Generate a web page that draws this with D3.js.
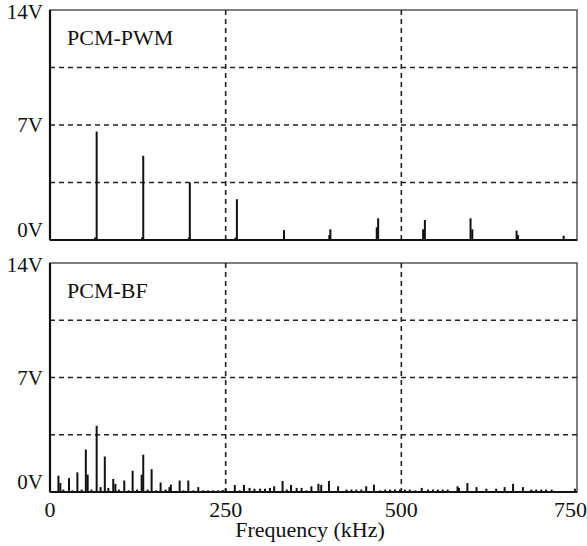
<!DOCTYPE html>
<html>
<head>
<meta charset="utf-8">
<title>PCM spectra</title>
<script src="https://cdn.jsdelivr.net/npm/d3@7"></script>
<style>
  body { margin: 0; background: #fff; }
  svg text { fill: #111; }
</style>
</head>
<body>
<svg id="chart" width="587" height="546"></svg>
<script>
// x ticks (kHz) and y ticks (V)
const xTicks = [0, 250, 500, 750];
const yTicks = [0, 7, 14];
const yTickLabels = ["0V", "7V", "14V"];
const yGrid = [3.5, 7, 10.5];
const panelNames = ["PCM-PWM", "PCM-BF"];

// PCM-PWM harmonics (frequency kHz, amplitude V)
const pwmFreq = [64, 66.4, 131, 132.7, 197.5, 199, 264, 266, 333, 397.5, 399, 465, 467, 531, 533.5, 598.5, 601, 664, 666, 731];
const pwmAmp  = [0.15, 6.6, 0.15, 5.13, 0.15, 3.5, 0.15, 2.48, 0.6, 0.3, 0.65, 0.77, 1.32, 0.65, 1.22, 1.32, 0.65, 0.57, 0.3, 0.26];

// PCM-BF spread spectrum
const bfFreq = [12, 14.7, 19, 27, 32, 39, 45, 51, 53.6, 59, 66.4, 72, 78, 83, 90, 93, 98, 105.7, 112, 117.6,
  124, 130.4, 132.7, 139, 144.6, 151, 157.4, 164.5, 170, 172, 184.5, 190, 196.8, 204, 211, 218, 225, 232, 239, 246,
  250, 263, 270, 276, 284, 291, 299, 306, 313, 319, 331, 337, 343, 351, 358, 365, 372, 382, 386, 397,
  410, 422, 429, 436, 443, 450, 461, 470, 477, 484, 491, 498, 505, 512, 520, 529, 538, 545, 552, 559,
  566, 580, 582, 594, 607, 621, 635, 647, 659, 673, 685, 692, 699, 706, 714, 747];
const bfAmp = [1.0, 0.55, 0.15, 0.85, 0.1, 1.2, 0.15, 2.6, 1.06, 0.15, 4.05, 0.3, 2.17, 0.25, 0.8, 0.5, 0.15, 0.7, 0.1, 1.3,
  0.15, 1.06, 2.28, 0.15, 1.4, 0.1, 0.58, 0.15, 0.3, 0.45, 0.7, 0.1, 0.7, 0.1, 0.3, 0.1, 0.1, 0.1, 0.1, 0.12,
  0.2, 0.43, 0.1, 0.43, 0.25, 0.2, 0.2, 0.2, 0.25, 0.35, 0.67, 0.15, 0.43, 0.25, 0.25, 0.1, 0.35, 0.5, 0.43, 0.67,
  0.35, 0.15, 0.15, 0.15, 0.15, 0.35, 0.45, 0.1, 0.15, 0.15, 0.15, 0.15, 0.15, 0.15, 0.1, 0.25, 0.15, 0.15, 0.15, 0.15,
  0.15, 0.35, 0.25, 0.55, 0.3, 0.2, 0.2, 0.3, 0.5, 0.3, 0.15, 0.15, 0.15, 0.15, 0.15, 0.2];

const serif = "'Liberation Serif', 'Times New Roman', Times, 'Nimbus Roman', 'Nimbus Roman No9 L', Tinos, 'Noto Serif', 'DejaVu Serif', FreeSerif, serif";
const svg = d3.select("#chart");
const x = d3.scaleLinear().domain([0, 750]).range([50, 577]);

const panels = [
  { top: 10, bottom: 240, freq: pwmFreq, amp: pwmAmp },
  { top: 263, bottom: 492, freq: bfFreq, amp: bfAmp }
];

panels.forEach((p, pi) => {
  const y = d3.scaleLinear().domain([0, 14]).range([p.bottom, p.top]);
  const g = svg.append("g");

  // frame
  g.append("rect")
    .attr("x", x(0)).attr("y", p.top)
    .attr("width", x(750) - x(0)).attr("height", p.bottom - p.top)
    .attr("fill", "none").attr("stroke", "#555").attr("stroke-width", 1.5);

  // dashed grid
  g.selectAll(".hg").data(yGrid).enter().append("line")
    .attr("x1", x(0)).attr("x2", x(750))
    .attr("y1", d => y(d)).attr("y2", d => y(d))
    .attr("stroke", "#222").attr("stroke-width", 1.6).attr("stroke-dasharray", "5,4");
  g.selectAll(".vg").data([250, 500]).enter().append("line")
    .attr("x1", d => x(d)).attr("x2", d => x(d))
    .attr("y1", p.top).attr("y2", p.bottom)
    .attr("stroke", "#222").attr("stroke-width", 1.6).attr("stroke-dasharray", "5,4");

  // spikes
  g.selectAll(".spike").data(p.freq).enter().append("line")
    .attr("x1", d => x(d)).attr("x2", d => x(d))
    .attr("y1", y(0)).attr("y2", (d, i) => y(p.amp[i]))
    .attr("stroke", "#111").attr("stroke-width", 2);

  // left and bottom axis lines
  g.append("line").attr("x1", x(0)).attr("x2", x(0)).attr("y1", p.top).attr("y2", p.bottom)
    .attr("stroke", "#111").attr("stroke-width", 2.2);
  g.append("line").attr("x1", x(0)).attr("x2", x(750)).attr("y1", p.bottom).attr("y2", p.bottom)
    .attr("stroke", "#111").attr("stroke-width", 2.2);

  // y labels
  const dyOff = [-3, 7, 9];
  g.selectAll(".yl").data(yTicks).enter().append("text")
    .attr("x", 43).attr("y", (d, i) => y(d) + dyOff[i])
    .attr("text-anchor", "end").attr("font-size", 21).attr("font-family", serif)
    .text((d, i) => yTickLabels[i]);

  // panel name
  g.append("text").attr("x", 67).attr("y", p.top + 35)
    .attr("font-size", 22).attr("font-family", serif).text(panelNames[pi]);
});

// x tick labels
svg.selectAll(".xl").data(xTicks).enter().append("text")
  .attr("x", (d, i) => i === xTicks.length - 1 ? 587 : x(d))
  .attr("y", 517)
  .attr("text-anchor", (d, i) => i === xTicks.length - 1 ? "end" : "middle")
  .attr("font-size", 22).attr("font-family", serif)
  .text(d => d);

svg.append("text").attr("x", 310).attr("y", 537)
  .attr("text-anchor", "middle").attr("font-size", 22).attr("font-family", serif)
  .text("Frequency (kHz)");
</script>
</body>
</html>
